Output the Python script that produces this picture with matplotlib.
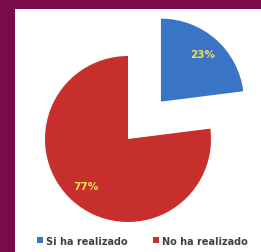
import matplotlib
matplotlib.use('Agg')
import matplotlib.pyplot as plt
from matplotlib.patches import Rectangle

# Datos del gráfico
categorias = ['Si ha realizado', 'No ha realizado']
valores = [23, 77]
colores = ['#3a74c6', '#c72f2d']

fig = plt.figure(figsize=(2.61, 2.53), dpi=100)
fig.patch.set_facecolor('#790b4a')

# Panel blanco
fig.patches.append(Rectangle((15 / 261, 0), 1, 1 - 10 / 253, transform=fig.transFigure,
                             facecolor='white', edgecolor='none', zorder=-1))

ax = fig.add_axes([0, 0, 1, 1])
ax.set_zorder(1)
ax.set_facecolor('none')

wedges, textos, pcts = ax.pie(valores, colors=colores, startangle=90, counterclock=False,
                              explode=[0.6, 0], autopct='%1.0f%%', pctdistance=0.76,
                              wedgeprops=dict(edgecolor='none'),
                              textprops=dict(color='#f2e24a', fontsize=7.5, fontweight='bold'))

esc = 83.0
ax.set_xlim(-128 / esc, (261 - 128) / esc)
ax.set_ylim(-(253 - 140) / esc, 140 / esc)
ax.set_aspect('auto')
ax.axis('off')

leg = fig.legend(wedges, categorias, loc='center', bbox_to_anchor=(0.545, 0.045), ncol=2,
                 frameon=False, handlelength=0.6, handleheight=0.6,
                 handletextpad=0.3, columnspacing=2.6,
                 prop=dict(size=7, weight='bold'))
leg.set_zorder(2)
for t in leg.get_texts():
    t.set_color('#404040')

fig.savefig('out.png', dpi=100, facecolor=fig.get_facecolor())
